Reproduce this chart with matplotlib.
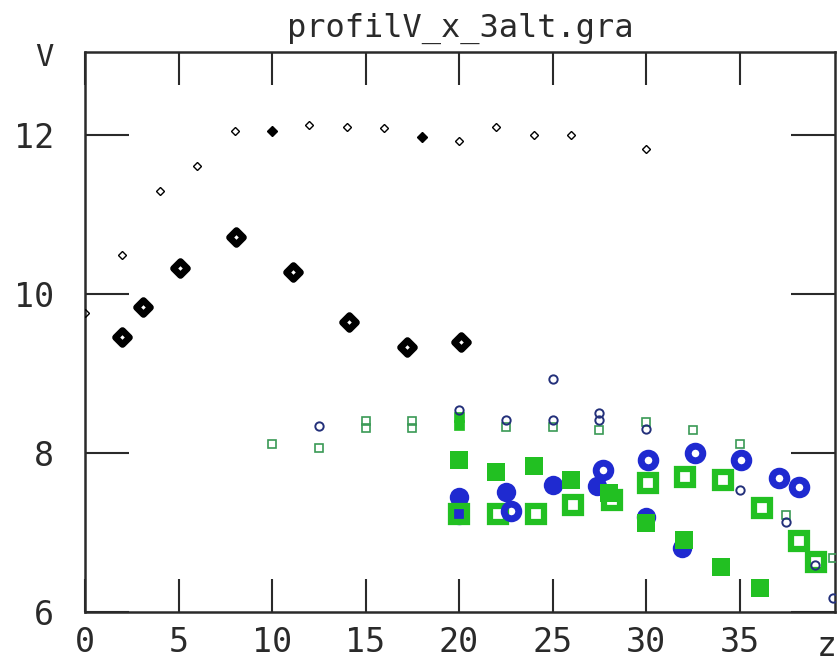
import matplotlib
matplotlib.use('Agg')
import matplotlib.pyplot as plt
from matplotlib.markers import MarkerStyle

# small black diamonds (upper row)
dia_s_x = [0, 2, 4, 6, 8, 12, 14, 16, 20, 22, 24, 26, 30]
dia_s_v = [9.76, 10.50, 11.30, 11.61, 12.05, 12.13, 12.10, 12.09, 11.93, 12.11, 12.0, 12.0, 11.83]
dia_f_x = [10, 18]
dia_f_v = [12.06, 11.98]
# big black diamonds
dia_b_x = [2.0, 3.1, 5.1, 8.1, 11.1, 14.1, 17.2, 20.1]
dia_b_v = [9.46, 9.84, 10.33, 10.72, 10.28, 9.65, 9.33, 9.40]

# small navy circles
circ_s_x = [12.5, 20, 22.5, 25, 25, 27.5, 27.5, 30, 35, 37.5, 39.05, 40]
circ_s_v = [8.34, 8.54, 8.42, 8.93, 8.42, 8.50, 8.42, 8.31, 7.53, 7.13, 6.59, 6.18]
# small green squares
sq_s_x = [10, 12.5, 15, 15, 17.5, 17.5, 22.5, 25, 27.5, 30, 32.5, 35, 37.5, 40]
sq_s_v = [8.11, 8.06, 8.40, 8.32, 8.40, 8.32, 8.33, 8.33, 8.29, 8.39, 8.29, 8.11, 7.22, 6.68]
sq_sf_x = [20, 20]
sq_sf_v = [8.45, 8.35]

# big blue circles, filled and open
circ_f_x = [20, 20, 22.5, 25, 27.35, 30, 31.9]
circ_f_v = [7.45, 7.22, 7.51, 7.60, 7.58, 7.20, 6.80]
circ_o_x = [22.8, 27.7, 30.1, 32.6, 35.1, 37.1, 38.2]
circ_o_v = [7.27, 7.79, 7.91, 8.00, 7.91, 7.69, 7.57]

# big green squares, open and filled
sq_o_x = [20, 22.1, 24.1, 26.1, 28.2, 30.1, 32.1, 34.1, 36.2, 38.2, 39.1]
sq_o_v = [7.24, 7.24, 7.24, 7.35, 7.41, 7.62, 7.70, 7.66, 7.31, 6.90, 6.63]
sq_f_x = [20, 22, 24, 26, 28, 30, 32, 34, 36.1]
sq_f_v = [7.91, 7.76, 7.84, 7.66, 7.50, 7.12, 6.91, 6.57, 6.30]

xticks = [0, 5, 10, 15, 20, 25, 30, 35]
yticks = [6, 8, 10, 12]

blue = '#1f2ad0'
navy = '#23307a'
green = '#22c022'
dgreen = '#3a9a55'
ink = '#2a2a2a'

plt.rcParams['font.family'] = ['DejaVu Sans Mono']
fig = plt.figure(figsize=(8.38, 6.62), dpi=100)
ax = fig.add_axes([85/838, 50/662, 750/838, 560/662])

ax.plot(circ_f_x, circ_f_v, 'o', ls='none', ms=14, mfc=blue, mec=blue, mew=0, zorder=2)
ax.plot(sq_o_x, sq_o_v, 's', ls='none', ms=11, mfc='none', mec=green, mew=4.5, zorder=3)
ax.plot(sq_f_x, sq_f_v, 's', ls='none', ms=13, mfc=green, mec=green, mew=0, zorder=4)
ax.plot(circ_o_x, circ_o_v, 'o', ls='none', ms=10.5, mfc='none', mec=blue, mew=5, zorder=5)

ax.plot(sq_s_x, sq_s_v, 's', ls='none', ms=5.5, mfc='none', mec=dgreen, mew=1.2, zorder=6)
ax.plot(sq_sf_x, sq_sf_v, 's', ls='none', ms=6.5, mfc=green, mec=green, mew=0.5, zorder=6)
ax.plot(circ_s_x, circ_s_v, 'o', ls='none', ms=6, mfc='none', mec=navy, mew=1.4, zorder=7)

ax.plot(dia_s_x, dia_s_v, 'D', ls='none', ms=4.5, mfc='none', mec='black', mew=1.0, zorder=7)
ax.plot(dia_f_x, dia_f_v, 'D', ls='none', ms=5, mfc='black', mec='black', mew=1.0, zorder=7)
big_d = MarkerStyle('D', joinstyle='round')
ax.plot(dia_b_x, dia_b_v, marker=big_d, ls='none', ms=7, mfc='white', mec='black', mew=4.8, zorder=7)

ax.set_xlim(0, 40.1)
ax.set_ylim(6, 13.05)
ax.set_xticks(xticks)
ax.set_yticks(yticks)
ax.set_xticklabels([str(t) for t in xticks])
ax.set_yticklabels([str(t) for t in yticks])
ax.tick_params(axis='x', which='both', direction='in', length=24, width=1.5,
               top=True, bottom=True, labelsize=24, pad=10, colors=ink)
ax.tick_params(axis='y', which='both', direction='in', length=32, width=1.5,
               left=True, right=True, labelsize=24, pad=22, colors=ink)
for s in ax.spines.values():
    s.set_linewidth(1.8)
    s.set_color(ink)

ax.set_title('profilV_x_3alt.gra', fontsize=23, pad=11, color=ink)
fig.text(44/838, 1-58/662, 'V', fontsize=22, ha='center', va='center', color=ink)
fig.text(837/838, 1-646/662, 'z', fontsize=24, ha='right', va='center', color=ink)

fig.savefig('out.png', dpi=100)
